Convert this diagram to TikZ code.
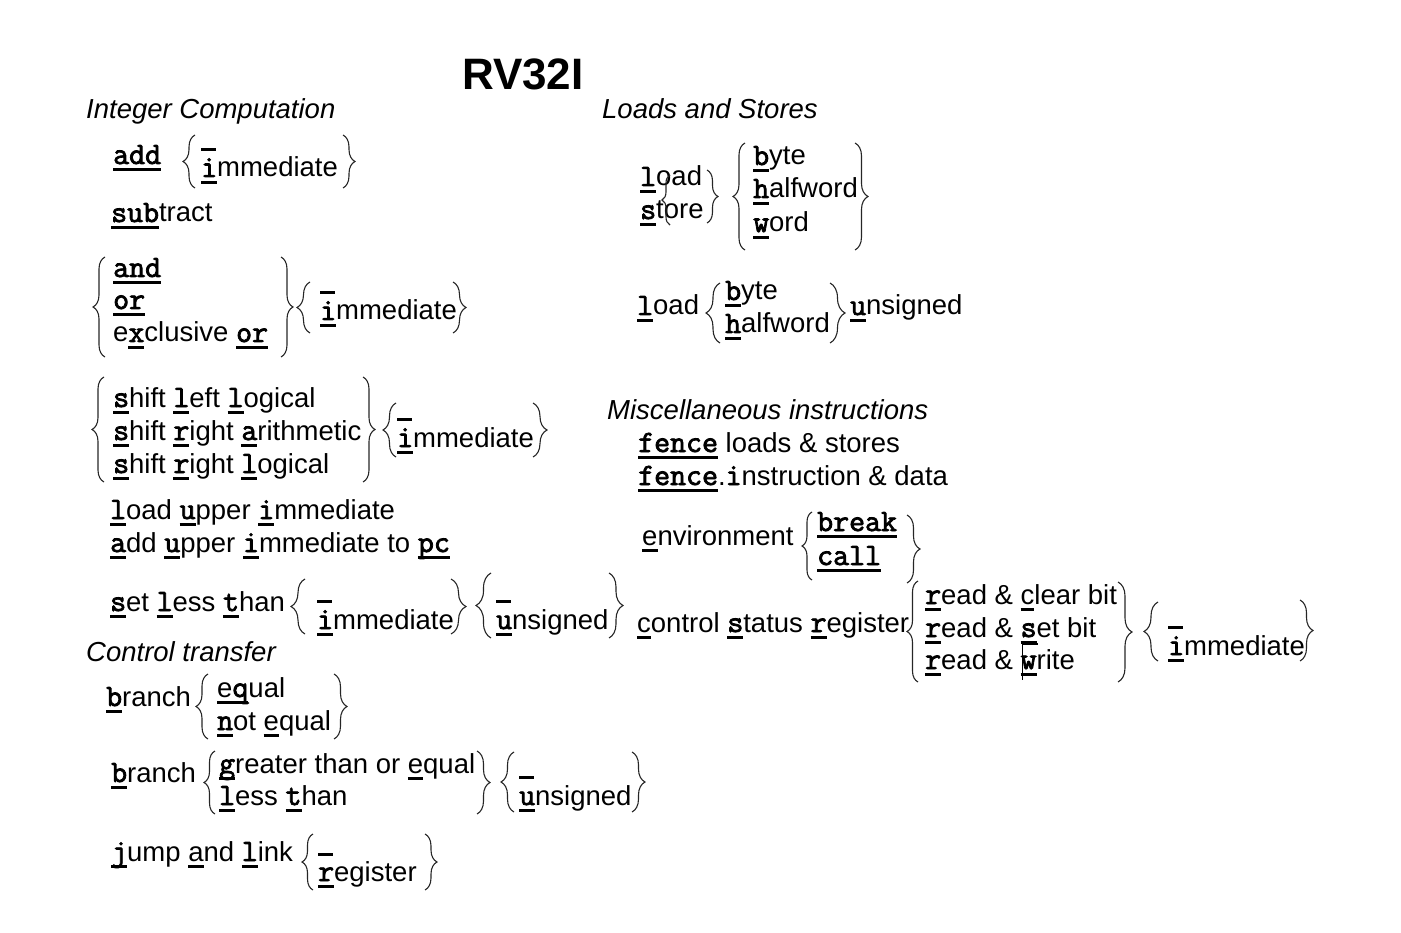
\documentclass[tikz,border=0pt]{standalone}
\usepackage{fontspec}
\setmainfont{Liberation Sans}
\newfontfamily\crsfont[FakeBold=2.5]{Latin Modern Mono}
\usepackage{tikz}
\usetikzlibrary{decorations.pathreplacing}

\newsavebox\ulbox
\newcommand\ulin[1]{\sbox\ulbox{#1}\rlap{\rule[-6.8pt]{\wd\ulbox}{2.6pt}}\usebox\ulbox}
\newcommand\crs[1]{{\crsfont\fontsize{31}{33}\selectfont #1}}
\newcommand\cu[1]{\ulin{\crs{#1}}}
\newcommand\au[1]{\ulin{#1}}
\newcommand\optnone{\ulin{\hspace*{15pt}}}

\begin{document}
\begin{tikzpicture}[
  x=1pt,y=-1pt,
  txt/.style={anchor=base west,inner sep=0pt,font=\fontsize{27.5}{33}\selectfont},
  hdr/.style={txt,font=\fontsize{27.5}{33}\selectfont\itshape},
  ttl/.style={txt,font=\fontsize{44}{50}\selectfont\bfseries},
  brc/.style={decorate,decoration={brace,amplitude=#1},line width=1.1pt,black!85},
  brc/.default=12pt
]
\useasboundingbox (0,0) rectangle (1401,933);
\node[ttl] (title) at (462,90) {RV32I};
\node[hdr] (hInt)  at (86,119)  {Integer Computation};
\node[hdr] (hLS)   at (602,119) {Loads and Stores};
\node[hdr] (hMisc) at (607,419) {Miscellaneous instructions};
\node[hdr] (hCtl)  at (86,661)  {Control transfer};
% integer computation
\node[txt] (add)   at (113,164) {\cu{add}};
\node[txt] (addN)  at (201,144) {\optnone};
\node[txt] (addI)  at (201,177) {\cu{i}mmediate};
\node[txt] (sub)   at (111,222) {\cu{sub}tract};
\node[txt] (and)   at (113,277) {\cu{and}};
\node[txt] (or)    at (113,309) {\cu{or}};
\node[txt] (xor)   at (113,342) {e\cu{x}clusive \cu{or}};
\node[txt] (logN)  at (320,287) {\optnone};
\node[txt] (logI)  at (320,320) {\cu{i}mmediate};
\node[txt] (sll)   at (113,407) {\cu{s}hift \cu{l}eft \cu{l}ogical};
\node[txt] (sra)   at (113,440) {\cu{s}hift \cu{r}ight \cu{a}rithmetic};
\node[txt] (srl)   at (113,473) {\cu{s}hift \cu{r}ight \cu{l}ogical};
\node[txt] (shN)   at (397,414) {\optnone};
\node[txt] (shI)   at (397,447) {\cu{i}mmediate};
\node[txt] (lui)   at (110,519) {\cu{l}oad \cu{u}pper \cu{i}mmediate};
\node[txt] (auipc) at (110,552) {\cu{a}dd \cu{u}pper \cu{i}mmediate to \cu{pc}};
\node[txt] (slt)   at (110,611) {\cu{s}et \cu{l}ess \cu{t}han};
\node[txt] (sltN)  at (317,596) {\optnone};
\node[txt] (sltI)  at (317,629) {\cu{i}mmediate};
\node[txt] (sltuN) at (496,596) {\optnone};
\node[txt] (sltuU) at (496,629) {\cu{u}nsigned};
% control transfer
\node[txt] (br1)   at (106,706) {\cu{b}ranch};
\node[txt] (beq)   at (217,697) {\au{e}\cu{q}ual};
\node[txt] (bne)   at (217,730) {\cu{n}ot \au{e}qual};
\node[txt] (br2)   at (111,782) {\cu{b}ranch};
\node[txt] (bge)   at (219,773) {\cu{g}reater than or \au{e}qual};
\node[txt] (blt)   at (219,805) {\cu{l}ess \cu{t}han};
\node[txt] (bN)    at (519,772) {\optnone};
\node[txt] (bU)    at (519,805) {\cu{u}nsigned};
\node[txt] (jal)   at (111,861) {\cu{j}ump \au{a}nd \cu{l}ink};
\node[txt] (jalN)  at (318,849) {\optnone};
\node[txt] (jalR)  at (318,881) {\cu{r}egister};
% loads and stores
\node[txt] (ld)    at (640,186) {\cu{l}oad};
\node[txt] (st)    at (640,219) {\cu{s}tore};
\node[txt] (lsB)   at (753,165) {\cu{b}yte};
\node[txt] (lsH)   at (753,198) {\cu{h}alfword};
\node[txt] (lsW)   at (753,232) {\cu{w}ord};
\node[txt] (ldu)   at (637,315) {\cu{l}oad};
\node[txt] (lduB)  at (725,300) {\cu{b}yte};
\node[txt] (lduH)  at (725,333) {\cu{h}alfword};
\node[txt] (lduU)  at (850,315) {\cu{u}nsigned};
% miscellaneous
\node[txt] (fen)   at (638,452) {\cu{fence} loads \& stores};
\node[txt] (fenI)  at (638,485) {\cu{fence}.\crs{i}nstruction \& data};
\node[txt] (env)   at (642,545) {\au{e}nvironment};
\node[txt] (ebrk)  at (817,531) {\cu{break}};
\node[txt] (ecall) at (817,565) {\cu{call}};
\node[txt] (csr)   at (637,632) {\au{c}ontrol \cu{s}tatus \cu{r}egister};
\node[txt] (csrC)  at (925,604) {\cu{r}ead \& \au{c}lear bit};
\node[txt] (csrS)  at (925,637) {\cu{r}ead \& \cu{s}et bit};
\node[txt] (csrW)  at (925,669) {\cu{r}ead \& \cu{w}rite};
\node[txt] (csrN)  at (1168,622) {\optnone};
\node[txt] (csrI)  at (1168,655) {\cu{i}mmediate};
% braces, left column
\draw[brc] (195,188) -- (195,135);
\draw[brc] (343,135) -- (343,188);
\draw[brc] (105,357) -- (105,257);
\draw[brc] (281,257) -- (281,357);
\draw[brc=13pt] (310,333) -- (310,282);
\draw[brc=13pt] (453,282) -- (453,333);
\draw[brc] (104,482) -- (104,377);
\draw[brc] (363,377) -- (363,482);
\draw[brc=13pt] (396,457) -- (396,403);
\draw[brc=14pt] (533,403) -- (533,457);
\draw[brc=14pt] (305,634) -- (305,579);
\draw[brc=15pt] (451,579) -- (451,634);
\draw[brc=15pt] (491,638) -- (491,573);
\draw[brc=14pt] (609,573) -- (609,638);
\draw[brc] (208,739) -- (208,674);
\draw[brc=13pt] (334,674) -- (334,739);
\draw[brc=11pt] (215,814) -- (215,751);
\draw[brc=13pt] (477,751) -- (477,814);
\draw[brc=13pt] (514,812) -- (514,752);
\draw[brc=13pt] (632,752) -- (632,812);
\draw[brc=11pt] (313,890) -- (313,834);
\draw[brc] (425,834) -- (425,890);
% braces, right column
\draw[brc=8pt] (670,225) -- (670,175);
\draw[brc=11pt] (707,170) -- (707,223);
\draw[brc] (745,250) -- (745,143);
\draw[brc=13pt] (855,143) -- (855,250);
\draw[brc=14pt] (720,343) -- (720,283);
\draw[brc=15pt] (830,283) -- (830,343);
\draw[brc=10pt] (812,580) -- (812,512);
\draw[brc=13pt] (907,515) -- (907,583);
\draw[brc=11pt] (918,682) -- (918,581);
\draw[brc=14pt] (1118,582) -- (1118,682);
\draw[brc=14pt] (1158,661) -- (1158,602);
\draw[brc=13pt] (1300,600) -- (1300,661);
% cursor mark on write
\draw[line width=0.9pt] (1022,643) -- (1022,680);
\draw[line width=2.4pt] (1022,644) -- (1038,644);
\end{tikzpicture}
\end{document}
